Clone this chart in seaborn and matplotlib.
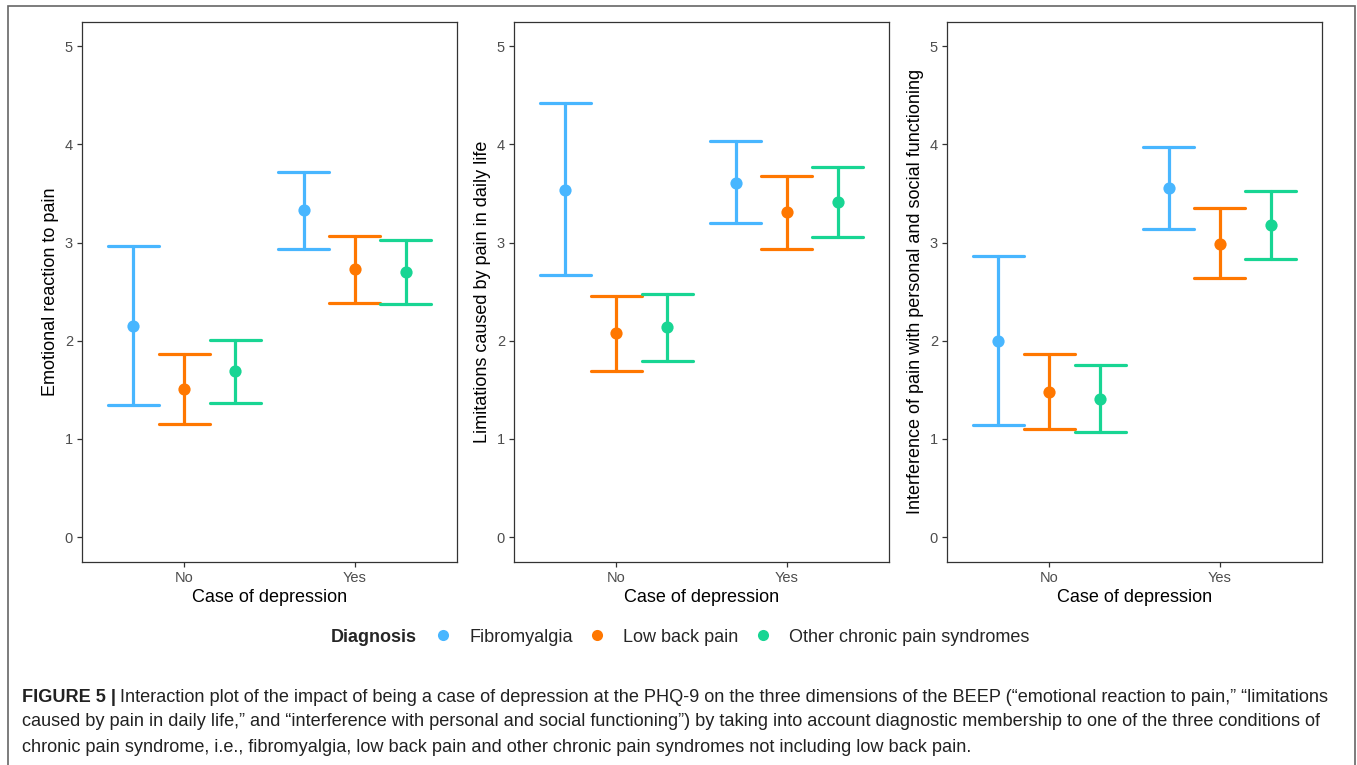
import numpy as np
import pandas as pd
import matplotlib
matplotlib.use("Agg")
import matplotlib.pyplot as plt
from matplotlib.lines import Line2D
from matplotlib.patches import Rectangle
import seaborn as sns

sns.set_style("white")
plt.rcParams['font.family'] = ['Liberation Sans', 'DejaVu Sans']

# ---------------- data ----------------
depression = ["No", "No", "No", "Yes", "Yes", "Yes"]
diagnosis = ["Fibromyalgia", "Low back pain", "Other chronic pain syndromes"] * 2
diag_order = ["Fibromyalgia", "Low back pain", "Other chronic pain syndromes"]
dep_order = ["No", "Yes"]
colors = ["#48B6FF", "#FF7700", "#18D593"]

emo_mean = [2.15, 1.51, 1.69, 3.33, 2.73, 2.70]
emo_lo = [1.35, 1.15, 1.37, 2.94, 2.38, 2.37]
emo_hi = [2.97, 1.87, 2.01, 3.72, 3.07, 3.03]

lim_mean = [3.54, 2.08, 2.14, 3.61, 3.31, 3.41]
lim_lo = [2.67, 1.69, 1.79, 3.20, 2.94, 3.06]
lim_hi = [4.42, 2.46, 2.48, 4.04, 3.68, 3.77]

int_mean = [2.00, 1.48, 1.41, 3.56, 2.99, 3.18]
int_lo = [1.14, 1.10, 1.07, 3.14, 2.64, 2.83]
int_hi = [2.86, 1.87, 1.75, 3.97, 3.35, 3.53]

ylabels = ["Emotional reaction to pain",
           "Limitations caused by pain in daily life",
           "Interference of pain with personal and social functioning"]
xlabel = "Case of depression"
yticks = [0, 1, 2, 3, 4, 5]

panels = [(emo_lo, emo_mean, emo_hi), (lim_lo, lim_mean, lim_hi), (int_lo, int_mean, int_hi)]

def long_frame(lo, mean, hi):
    rows = []
    for d, g, a, m, b in zip(depression, diagnosis, lo, mean, hi):
        for v in (a, m, b):
            rows.append({"depression": d, "diagnosis": g, "value": v})
    return pd.DataFrame(rows)

# ---------------- figure ----------------
W, H = 1357, 765
fig = plt.figure(figsize=(W / 100, H / 100), dpi=100)

lefts = [82, 514, 947]
ax_w, top, bottom = 375, 21.7, 561.7
frame_col = "#333333"
tick_col = "#4D4D4D"

for i, (lo, mean, hi) in enumerate(panels):
    ax = fig.add_axes([lefts[i] / W, (H - bottom) / H, ax_w / W, (bottom - top) / H])
    df = long_frame(lo, mean, hi)
    sns.pointplot(data=df, x="depression", y="value", hue="diagnosis",
                  order=dep_order, hue_order=diag_order, palette=colors,
                  estimator="median", errorbar=lambda v: (v.min(), v.max()),
                  dodge=0.6, linestyle="none", markers="o", capsize=0.3,
                  err_kws={"linewidth": 2.3}, markersize=8.8, markeredgewidth=0,
                  legend=False, ax=ax)
    ax.set_xlim(-0.6, 1.6)
    ax.set_ylim(-0.25, 5.25)
    ax.set_yticks(yticks)
    ax.set_ylabel(ylabels[i], fontsize=13, color="black", labelpad=4)
    ax.set_xlabel(xlabel, fontsize=13, color="black", labelpad=3)
    ax.tick_params(axis="both", direction="out", length=3.5, width=0.9,
                   color=frame_col, labelcolor=tick_col, labelsize=10.5, pad=3,
                   left=True, bottom=True)
    for s in ax.spines.values():
        s.set_visible(True)
        s.set_color(frame_col)
        s.set_linewidth(0.9)
    ax.grid(False)

# ---------------- legend ----------------
fig.text(417 / W, 1 - 637 / H, "Diagnosis", fontsize=13, fontweight="bold",
         ha="right", va="center")
handles = [Line2D([], [], linestyle="none", marker="o", markersize=8,
                  markerfacecolor=c, markeredgewidth=0) for c in colors]
fig.legend(handles, diag_order, loc="center left", ncol=3,
           bbox_to_anchor=(434 / W, 1 - 637 / H), frameon=False, fontsize=13.0,
           handlelength=1.0, handletextpad=0.95, columnspacing=0.85,
           borderaxespad=0, borderpad=0)

# ---------------- caption ----------------
cap_fs = 13.1
x0 = 22 / W
bold = fig.text(x0, 1 - 697 / H, "FIGURE 5 |", fontsize=cap_fs, fontweight="bold",
                va="center", ha="left", color="#222222")
fig.canvas.draw()
r = fig.canvas.get_renderer()
bb = bold.get_window_extent(r)
fig.text((bb.x1 + 4) / W, 1 - 697 / H,
         "Interaction plot of the impact of being a case of depression at the PHQ-9 on the three "
         "dimensions of the BEEP (\u201cemotional reaction to pain,\u201d \u201climitations",
         fontsize=cap_fs, va="center", ha="left", color="#222222")
fig.text(x0, 1 - 722 / H,
         "caused by pain in daily life,\u201d and \u201cinterference with personal and social "
         "functioning\u201d) by taking into account diagnostic membership to one of the three conditions of",
         fontsize=cap_fs, va="center", ha="left", color="#222222")
fig.text(x0, 1 - 747 / H,
         "chronic pain syndrome, i.e., fibromyalgia, low back pain and other chronic pain syndromes "
         "not including low back pain.",
         fontsize=cap_fs, va="center", ha="left", color="#222222")

# outer border
fig.patches.append(Rectangle((7.5 / W, -0.05), (1355 - 7.5) / W, 1.05 - 6 / H,
                             transform=fig.transFigure, fill=False,
                             edgecolor="#666666", linewidth=1.2))

fig.savefig("out.png", dpi=100)
